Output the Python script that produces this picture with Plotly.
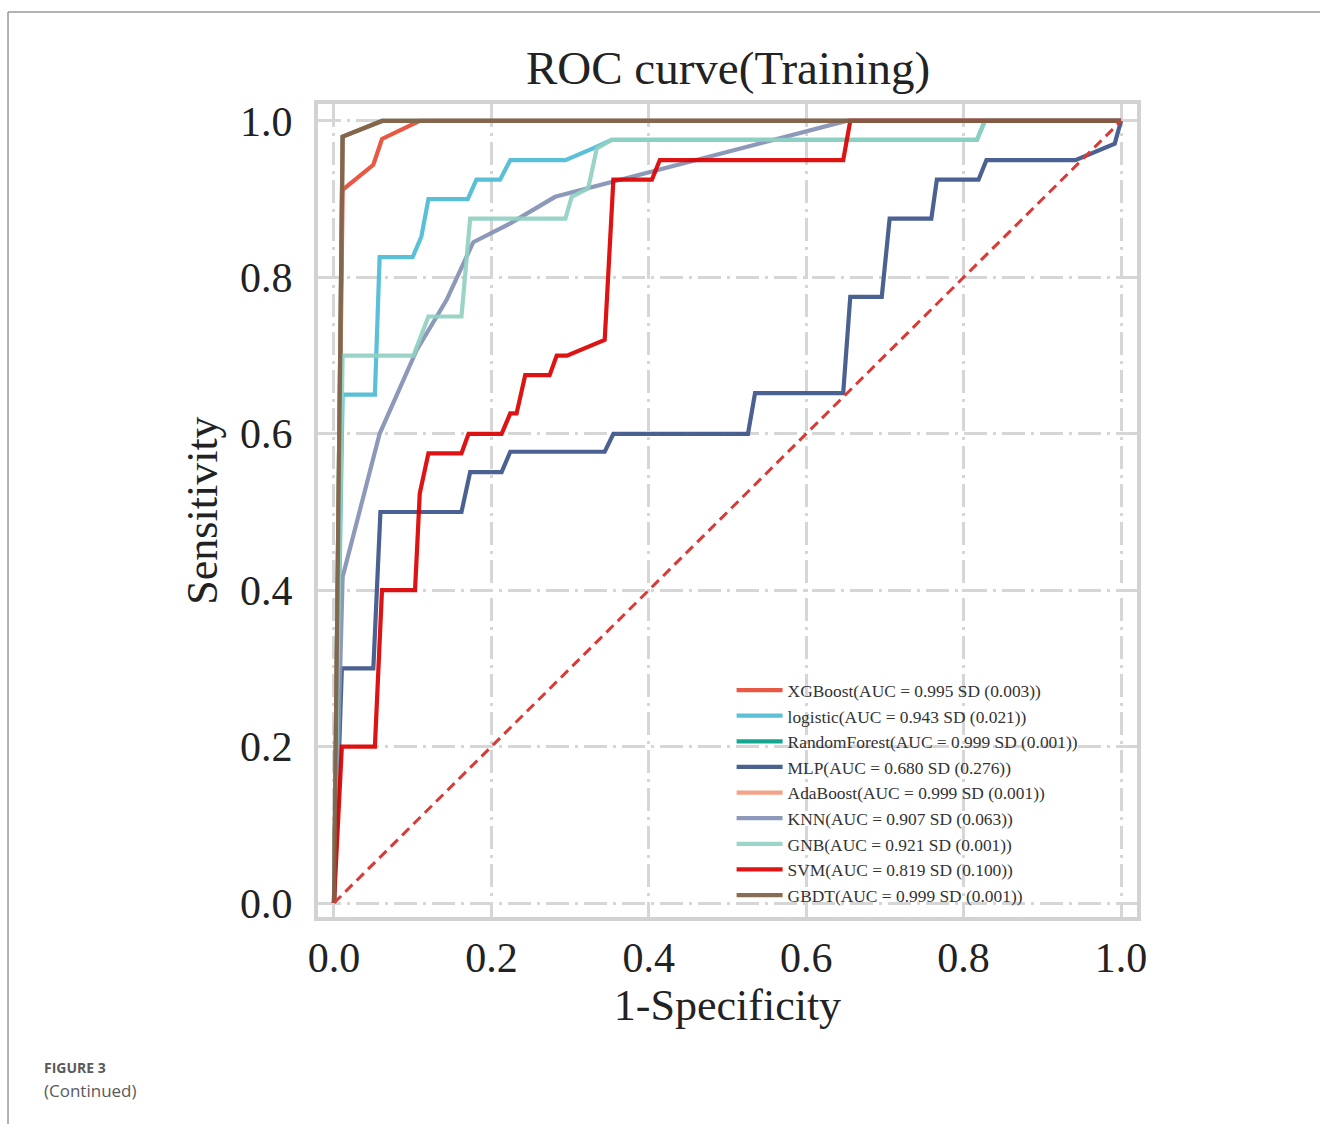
import plotly.graph_objects as go

# ---------------- data ----------------
model_names = ["XGBoost", "logistic", "RandomForest", "MLP", "AdaBoost",
               "KNN", "GNB", "SVM", "GBDT"]
auc_values = ["0.995", "0.943", "0.999", "0.680", "0.999", "0.907", "0.921", "0.819", "0.999"]
sd_values = ["0.003", "0.021", "0.001", "0.276", "0.001", "0.063", "0.001", "0.100", "0.001"]
colors = ["#E64B35", "#4DBBD5", "#00A087", "#3C5488", "#F39B7F",
          "#8491B4", "#91D1C2", "#DC0000", "#7E6148"]

xgb_fpr = [0.0, 0.011, 0.050, 0.061, 0.109, 1.0]
xgb_tpr = [0.0, 0.912, 0.944, 0.977, 1.0, 1.0]

log_fpr = [0.0, 0.011, 0.052, 0.058, 0.100, 0.111, 0.120, 0.170, 0.181, 0.211, 0.224,
           0.294, 0.329, 0.353, 0.817, 0.827, 1.0]
log_tpr = [0.0, 0.650, 0.650, 0.826, 0.826, 0.852, 0.900, 0.900, 0.925, 0.925, 0.950,
           0.950, 0.965, 0.976, 0.976, 1.0, 1.0]

rf_fpr = [0.0, 0.011, 0.061, 1.0]
rf_tpr = [0.0, 0.980, 1.0, 1.0]

mlp_fpr = [0.0, 0.010, 0.050, 0.059, 0.162, 0.173, 0.213, 0.224, 0.344, 0.355, 0.526,
           0.535, 0.647, 0.656, 0.696, 0.706, 0.759, 0.766, 0.819, 0.829, 0.942, 0.992, 1.0]
mlp_tpr = [0.0, 0.300, 0.300, 0.500, 0.500, 0.551, 0.551, 0.577, 0.577, 0.600, 0.600,
           0.652, 0.652, 0.775, 0.775, 0.875, 0.875, 0.925, 0.925, 0.950, 0.950, 0.971, 1.0]

ada_fpr = [0.0, 0.011, 0.061, 1.0]
ada_tpr = [0.0, 0.980, 1.0, 1.0]

knn_fpr = [0.0, 0.011, 0.058, 0.105, 0.143, 0.177, 0.224, 0.281, 0.651, 1.0]
knn_tpr = [0.0, 0.417, 0.600, 0.707, 0.771, 0.845, 0.869, 0.903, 1.0, 1.0]

gnb_fpr = [0.0, 0.011, 0.101, 0.120, 0.162, 0.173, 0.294, 0.302, 0.323, 0.334, 0.353,
           0.817, 0.827, 1.0]
gnb_tpr = [0.0, 0.700, 0.700, 0.750, 0.750, 0.875, 0.875, 0.903, 0.914, 0.965, 0.976,
           0.976, 1.0, 1.0]

svm_fpr = [0.0, 0.010, 0.052, 0.061, 0.103, 0.109, 0.120, 0.162, 0.171, 0.213, 0.224,
           0.232, 0.243, 0.274, 0.283, 0.296, 0.344, 0.355, 0.404, 0.414, 0.647, 0.656, 1.0]
svm_tpr = [0.0, 0.200, 0.200, 0.400, 0.400, 0.524, 0.575, 0.575, 0.600, 0.600, 0.626,
           0.626, 0.675, 0.675, 0.700, 0.700, 0.720, 0.925, 0.925, 0.950, 0.950, 1.0, 1.0]

gbdt_fpr = [0.0, 0.011, 0.061, 1.0]
gbdt_tpr = [0.0, 0.980, 1.0, 1.0]

chance_x = [0.0, 1.0]
chance_y = [0.0, 1.0]

tick_vals = [0.0, 0.2, 0.4, 0.6, 0.8, 1.0]
tick_text = ["0.0", "0.2", "0.4", "0.6", "0.8", "1.0"]

fprs = [xgb_fpr, log_fpr, rf_fpr, mlp_fpr, ada_fpr, knn_fpr, gnb_fpr, svm_fpr, gbdt_fpr]
tprs = [xgb_tpr, log_tpr, rf_tpr, mlp_tpr, ada_tpr, knn_tpr, gnb_tpr, svm_tpr, gbdt_tpr]

# ---------------- figure ----------------
SERIF = "Liberation Serif"
fig = go.Figure()

for i, name in enumerate(model_names):
    fig.add_trace(go.Scatter(
        x=fprs[i], y=tprs[i], mode="lines",
        name=f"{name}(AUC = {auc_values[i]} SD ({sd_values[i]}))",
        line=dict(color=colors[i], width=4.2),
        opacity=0.92,
        legendgroup=name,
    ))

fig.add_trace(go.Scatter(
    x=chance_x, y=chance_y, mode="lines", showlegend=False,
    line=dict(color="#d93a36", width=3, dash="10px,6px"),
    hoverinfo="skip",
))

axis_common = dict(
    showgrid=True, gridcolor="#d6d6d6", gridwidth=3, griddash="23px,6px,3px,6px",
    zeroline=False, showline=True, mirror=True, linecolor="#d2d2d2", linewidth=4,
    ticks="", tickvals=tick_vals, ticktext=tick_text,
    tickfont=dict(family=SERIF, size=42, color="#222222"),
)

fig.update_layout(
    width=1320, height=1124,
    margin=dict(l=318, r=183, t=104, b=207),
    paper_bgcolor="white", plot_bgcolor="white",
    title=dict(text="ROC curve(Training)", x=0.5516, xanchor="center",
               y=1 - 68 / 1124, yanchor="middle",
               font=dict(family=SERIF, size=47, color="#222222")),
    xaxis=dict(range=[-0.0203, 1.0203], ticklabelstandoff=1,
               title=dict(text="1-Specificity", standoff=8,
                          font=dict(family=SERIF, size=44, color="#222222")),
               **axis_common),
    yaxis=dict(range=[-0.0179, 1.0217], ticklabelstandoff=13,
               title=dict(text="Sensitivity", standoff=10,
                          font=dict(family=SERIF, size=44, color="#222222")),
               **axis_common),
    legend=dict(x=0.505, y=0.301, xanchor="left", yanchor="top",
                bgcolor="rgba(0,0,0,0)", borderwidth=0,
                font=dict(family=SERIF, size=17.4, color="#333333"),
                tracegroupgap=0, itemwidth=46),
    showlegend=True,
)

# page frame and caption of the journal figure
fig.add_shape(type="line", xref="paper", yref="paper",
              x0=-0.3785, x1=1.2234, y0=1.1132, y1=1.1132,
              line=dict(color="#9a9a9a", width=1.5))
fig.add_shape(type="line", xref="paper", yref="paper",
              x0=-0.3785, x1=-0.3785, y0=1.1132, y1=-0.2546,
              line=dict(color="#9a9a9a", width=1.5))
fig.add_annotation(text="<b>FIGURE 3</b>", xref="paper", yref="paper",
                   x=-0.337, y=-0.1857, xanchor="left", yanchor="middle",
                   showarrow=False, font=dict(family="Open Sans", size=14, color="#5a5a5a"))
fig.add_annotation(text="(Continued)", xref="paper", yref="paper",
                   x=-0.337, y=-0.214, xanchor="left", yanchor="middle",
                   showarrow=False, font=dict(family="Open Sans", size=17, color="#5a5a5a"))

fig.write_html("out.html")
